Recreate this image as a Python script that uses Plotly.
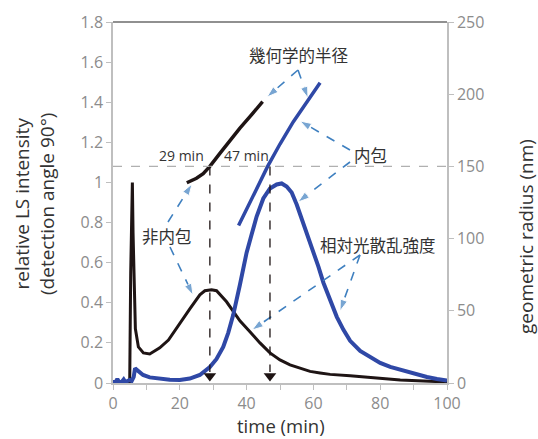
import plotly.graph_objects as go

# ---------------- data ----------------
black_t = [0, 5.0, 5.3, 5.6, 5.8, 6.0, 6.3, 6.7, 7.6, 9.1, 11, 14, 16.6, 20, 23, 26,
           27.5, 29.5, 31, 34, 36, 38, 41, 44, 47, 50, 53, 56, 59, 62, 65, 71, 78, 86, 93, 100]
black_ls = [0.0, 0.0, 0.55, 0.98, 1.0, 0.75, 0.45, 0.27, 0.18, 0.15, 0.145, 0.175, 0.214, 0.30,
            0.37, 0.44, 0.46, 0.465, 0.46, 0.405, 0.355, 0.31, 0.256, 0.2, 0.15, 0.115, 0.09,
            0.075, 0.058, 0.05, 0.043, 0.036, 0.025, 0.015, 0.01, 0.005]

blue_t = [0, 0.8, 1.3, 1.8, 2.6, 3.2, 3.7, 4.3, 5.0, 5.6, 6.2, 6.6, 7.5, 9, 11, 14, 17, 20,
          23, 26, 29, 31, 33, 34.5, 36, 38, 40, 41.5, 43, 45, 47, 49, 50.5, 52, 53.5, 55,
          56.5, 58.5, 60, 61.5, 63, 65, 67, 69, 71, 74, 77, 80, 83, 86, 90, 94, 97, 100]
blue_ls = [0.005, 0.005, 0.02, 0.005, 0.005, 0.018, 0.005, 0.008, 0.015, 0.01, 0.03, 0.073,
           0.058, 0.04, 0.028, 0.02, 0.016, 0.015, 0.022, 0.04, 0.08, 0.12, 0.18, 0.25, 0.34,
           0.49, 0.65, 0.74, 0.83, 0.92, 0.97, 0.99, 0.995, 0.98, 0.95, 0.89, 0.82, 0.73,
           0.66, 0.58, 0.50, 0.41, 0.33, 0.265, 0.21, 0.16, 0.13, 0.10, 0.08, 0.065, 0.045,
           0.03, 0.02, 0.012]

black_rad_t = [22.1, 23.5, 25, 27, 29, 32, 35, 38, 41, 44.8]
black_rad = [138.7, 140, 141.8, 145, 150, 159, 168, 176.5, 184.5, 194.8]

blue_rad_t = [37.6, 42, 46.3, 50, 54, 58, 62]
blue_rad = [109, 130, 150, 165.5, 181, 194.5, 208]

marker_times = [29, 47]
marker_labels = ["29 min", "47 min"]
ref_radius = 150

x_ticks = [0, 10, 20, 30, 40, 50, 60, 70, 80, 90, 100]
x_ticktext = ["0", "", "20", "", "40", "", "60", "", "80", "", "100"]
y_ticks = [0, 0.2, 0.4, 0.6, 0.8, 1.0, 1.2, 1.4, 1.6, 1.8]
y_ticktext = ["0", "0.2", "0.4", "0.6", "0.8", "1", "1.2", "1.4", "1.6", "1.8"]
y2_ticks = [0, 50, 100, 150, 200, 250]

# ---------------- layout geometry ----------------
W, H = 538, 439
SL, SR, ST, SB = 113, 447, 22, 383   # plot area edges in screenshot pixels
L, T = SL, ST
R = W - SR
B = H - SB
PW, PH = SR - SL, SB - ST
XMAX, YMAX = 100, 1.8


def px2x(px):
    return (px - SL) / PW * XMAX


def py2y(py):
    return (SB - py) / PH * YMAX


def pap_x(px):
    return (px - SL) / PW


def pap_y(py):
    return (SB - py) / PH


BLACK = "#1e1414"
BLUE = "#2f48a6"
ARROW = "#3f80c0"
AXIS = "#bfbfbf"
TICKC = "#8c8c8c"
TXT = "#333333"
LATIN = "Open Sans, Noto Sans, sans-serif"
CJK = "Noto Sans CJK JP, sans-serif"

fig = go.Figure()

fig.add_trace(go.Scatter(x=black_t, y=black_ls, mode="lines",
                         line=dict(color=BLACK, width=3), yaxis="y"))
fig.add_trace(go.Scatter(x=blue_t, y=blue_ls, mode="lines",
                         line=dict(color=BLUE, width=4), yaxis="y"))
fig.add_trace(go.Scatter(x=black_rad_t, y=black_rad, mode="lines",
                         line=dict(color=BLACK, width=3.5), yaxis="y2"))
fig.add_trace(go.Scatter(x=blue_rad_t, y=blue_rad, mode="lines",
                         line=dict(color=BLUE, width=3.5), yaxis="y2"))

# arrow-head markers at bottom of vertical dashed lines
fig.add_trace(go.Scatter(x=marker_times, y=[py2y(376)] * len(marker_times), mode="markers",
                         marker=dict(symbol="triangle-down", size=11, color=BLACK),
                         yaxis="y"))

# blue dashed annotation arrows (start px, tip px)
arrows = [
    ((168, 222), (192, 184)),
    ((170, 247), (193, 295)),
    ((298, 70), (267, 97)),
    ((298, 70), (308, 98)),
    ((350, 150), (300, 121)),
    ((350, 162), (298, 202)),
    ((360, 255), (252, 330)),
    ((360, 255), (340, 311)),
]
for (s, e) in arrows:
    fig.add_trace(go.Scatter(
        x=[px2x(s[0]), px2x(e[0])], y=[py2y(s[1]), py2y(e[1])],
        mode="lines+markers",
        line=dict(color=ARROW, width=1.6, dash="dash"),
        marker=dict(symbol="arrow", size=[0, 12], angleref="previous", color=ARROW),
        yaxis="y"))

shapes = [
    # top border
    dict(type="line", xref="paper", yref="paper", x0=0, x1=1, y0=1, y1=1,
         line=dict(color="#222222", width=1.2)),
    # reference radius line
    dict(type="line", xref="paper", yref="y2", x0=0, x1=1, y0=ref_radius, y1=ref_radius,
         line=dict(color="#b0b0b0", width=1.2, dash="dash")),
]
for t in marker_times:
    shapes.append(dict(type="line", xref="x", yref="y2", x0=t, x1=t,
                       y0=ref_radius, y1=(SB - 372) / PH * 250,
                       line=dict(color=BLACK, width=1.3, dash="dash")))

annotations = []
for t, lab, cx in zip(marker_times, marker_labels, [181, 246]):
    annotations.append(dict(text=lab, xref="paper", yref="paper", x=pap_x(cx), y=pap_y(155),
                            xanchor="center", yanchor="middle",
                            showarrow=False, font=dict(family=LATIN, size=14, color=TXT)))

jp_labels = [("非内包", 166.7, 236), ("幾何学的半径", 299, 55), ("内包", 370, 155),
             ("相対光散乱強度", 377.5, 245)]
for txt, cx, cy in jp_labels:
    annotations.append(dict(text=txt, xref="paper", yref="paper", x=pap_x(cx), y=pap_y(cy),
                            xanchor="center", yanchor="middle",
                            showarrow=False, font=dict(family=CJK, size=16.5, color=TXT)))

# axis titles
annotations.append(dict(text="relative LS intensity<br>(detection angle 90°)",
                        xref="paper", yref="paper", x=pap_x(34), y=pap_y(204),
                        xanchor="center", yanchor="middle",
                        textangle=-90, showarrow=False,
                        font=dict(family=LATIN, size=19, color=TXT)))
annotations.append(dict(text="geometric radius (nm)", xref="paper", yref="paper",
                        x=pap_x(526), y=pap_y(237), textangle=-90, showarrow=False,
                        xanchor="center", yanchor="middle",
                        font=dict(family=LATIN, size=19, color=TXT)))
annotations.append(dict(text="time (min)", xref="paper", yref="paper",
                        x=pap_x(280.5), y=pap_y(425), showarrow=False,
                        xanchor="center", yanchor="middle",
                        font=dict(family=LATIN, size=18.5, color=TXT)))

axis_common = dict(showgrid=False, zeroline=False, showline=True, linecolor=AXIS,
                   linewidth=1.5, ticks="outside", ticklen=5, tickcolor=AXIS,
                   tickwidth=1.2, tickfont=dict(family=LATIN, size=16, color=TICKC),
                   automargin=False)

fig.update_layout(
    width=W, height=H,
    margin=dict(l=L, r=R, t=T, b=B, autoexpand=False),
    paper_bgcolor="white", plot_bgcolor="white",
    showlegend=False,
    xaxis=dict(range=[0, XMAX], tickvals=x_ticks, ticktext=x_ticktext, **axis_common),
    yaxis=dict(range=[0, YMAX], tickvals=y_ticks, ticktext=y_ticktext, **axis_common),
    yaxis2=dict(range=[0, 250], tickvals=y2_ticks, overlaying="y", side="right",
                **axis_common),
    shapes=shapes,
    annotations=annotations,
)

fig.write_html("out.html", config={"displayModeBar": False},
               post_script="document.body.style.margin='0';"
                           "document.body.style.overflow='hidden';")
